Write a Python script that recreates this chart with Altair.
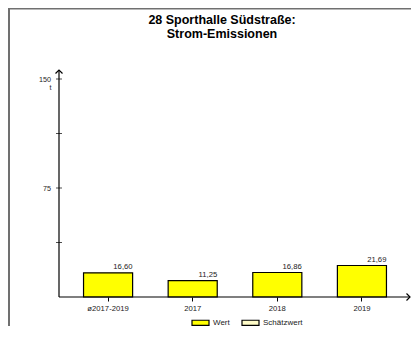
import altair as alt
import pandas as pd

categories = ["ø2017-2019", "2017", "2018", "2019"]
values = [16.60, 11.25, 16.86, 21.69]
series_type = ["Wert", "Wert", "Wert", "Wert"]
legend_entries = ["Wert", "Schätzwert"]
legend_colors = ["#ffff00", "#fffcc8"]
y_label_values = [75, 150]
y_tick_values = [37.5, 75, 112.5, 150]

FONT = "Liberation Sans"

df = pd.DataFrame({
    "cat": categories,
    "val": values,
    "typ": series_type,
    "label": [f"{v:.2f}".replace(".", ",") for v in values],
})
ticks_df = pd.DataFrame({"tv": y_tick_values})
one = pd.DataFrame({"d": [0]})

W, H = 352, 218

x_enc = alt.X("cat:N", sort=categories,
              scale=alt.Scale(paddingInner=0.42, paddingOuter=0.29),
              axis=alt.Axis(title=None, domain=False, ticks=True, tickSize=4,
                            tickColor="black", labelAngle=0, labelFontSize=7.7,
                            labelPadding=3, labelColor="#222", labelFont=FONT))
y_scale = alt.Scale(domain=[0, 150], nice=False)
y_axis = alt.Axis(values=y_label_values, ticks=False, domain=False, grid=False,
                  labelFontSize=7.2, labelPadding=8.5, labelColor="#222", labelFont=FONT,
                  title="t", titleAngle=0, titleX=-8, titleY=8, titleAlign="right",
                  titleBaseline="middle", titleFontSize=7.2, titleFontWeight="normal",
                  titleFont=FONT, titleColor="#222")

bars = alt.Chart(df).mark_bar(stroke="black", strokeWidth=1.2).encode(
    x=x_enc,
    y=alt.Y("val:Q", scale=y_scale, axis=y_axis),
    color=alt.Color("typ:N",
                    scale=alt.Scale(domain=legend_entries, range=legend_colors),
                    legend=alt.Legend(title=None, orient="none", direction="horizontal",
                                      legendX=132, legendY=234, padding=0,
                                      symbolType="M-1,-0.3H1V0.3H-1Z", symbolSize=289,
                                      symbolStrokeColor="black", symbolStrokeWidth=1.2,
                                      symbolOpacity=1,
                                      labelFontSize=8, labelFont=FONT, labelColor="#222",
                                      labelOffset=3, columnPadding=9)),
)

labels = alt.Chart(df).mark_text(align="right", baseline="bottom", dx=24.5, dy=-1.5,
                                 fontSize=7.7, font=FONT, color="#222").encode(
    x=alt.X("cat:N", sort=categories),
    y=alt.Y("val:Q"),
    text="label:N",
)

yticks = alt.Chart(ticks_df).mark_tick(color="black", size=6, thickness=1).encode(
    y=alt.Y("tv:Q"),
    x=alt.value(0),
)

y_line = alt.Chart(one).mark_rule(color="black", strokeWidth=1.2).encode(
    x=alt.value(0), y=alt.value(H), y2=alt.value(-9))
x_line = alt.Chart(one).mark_rule(color="black", strokeWidth=1.2).encode(
    x=alt.value(0), x2=alt.value(351), y=alt.value(H))
up_arrow = alt.Chart(one).mark_point(shape="M-1,1L0,0L1,1", filled=False, size=49,
                                     color="black", strokeWidth=1.2, opacity=1).encode(
    x=alt.value(0), y=alt.value(-9))
right_arrow = alt.Chart(one).mark_point(shape="M-1,-1L0,0L-1,1", filled=False, size=49,
                                        color="black", strokeWidth=1.2, opacity=1).encode(
    x=alt.value(351), y=alt.value(H))
border_top = alt.Chart(one).mark_rule(color="#707070", strokeWidth=1.5).encode(
    x=alt.value(-51), x2=alt.value(360), y=alt.value(-70.25))
border_left = alt.Chart(one).mark_rule(color="#707070", strokeWidth=2).encode(
    x=alt.value(-50), y=alt.value(-71), y2=alt.value(H + 40))

chart = alt.layer(
    border_top, border_left, bars, labels, yticks, y_line, x_line, up_arrow, right_arrow
).properties(
    width=W, height=H,
    autosize=alt.AutoSizeParams(type="none"),
    padding={"left": 51, "top": 71, "right": 0, "bottom": 29},
    title=alt.TitleParams(text=["28 Sporthalle Südstraße:", "Strom-Emissionen"],
                          fontSize=12.5, font=FONT, fontWeight="bold", anchor="middle",
                          frame="group", dx=-13, dy=33, offset=0, color="black",
                          lineHeight=14),
).configure_view(stroke=None).configure_axis(grid=False)

chart.save("out.html", embed_options={"renderer": "svg", "actions": False})
